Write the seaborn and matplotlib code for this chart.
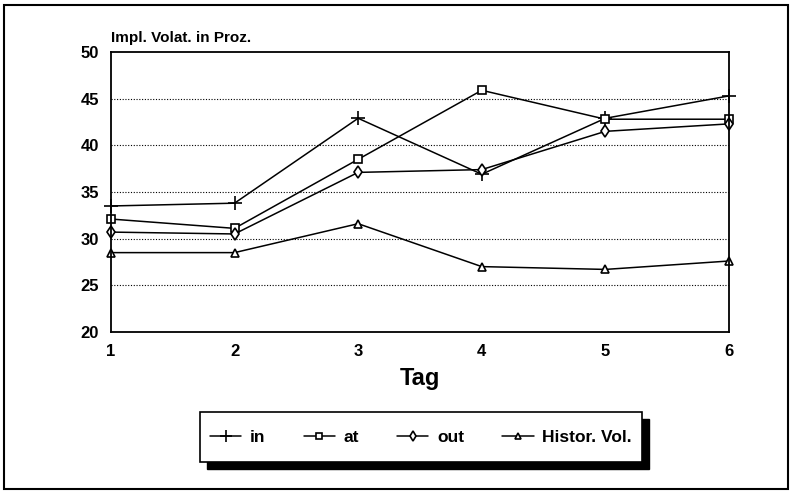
import pandas as pd
import matplotlib.pyplot as plt
from matplotlib.patches import Rectangle
import seaborn as sns

# Implied volatility per day
tage = [1, 2, 3, 4, 5, 6]
vol_in = [33.5, 33.8, 42.9, 36.9, 42.9, 45.3]
vol_at = [32.1, 31.1, 38.5, 45.9, 42.8, 42.8]
vol_out = [30.7, 30.5, 37.1, 37.4, 41.5, 42.3]
vol_hist = [28.5, 28.5, 31.6, 27.0, 26.7, 27.6]

series_names = ["in", "at", "out", "Histor. Vol."]
series_values = [vol_in, vol_at, vol_out, vol_hist]
markers = ["+", "s", "d", "^"]

sns.set_style("white")
plt.rcParams['font.family'] = ['Liberation Sans', 'DejaVu Sans']
plt.rcParams['font.weight'] = 'bold'
plt.rcParams['text.color'] = 'black'
plt.rcParams['axes.labelcolor'] = 'black'

fig = plt.figure(figsize=(7.98, 4.91), dpi=100)
ax = fig.add_axes([0.139, 0.324, 0.7745, 0.570])

for name, vals, m in zip(series_names, series_values, markers):
    df = pd.DataFrame({"Tag": tage, "Vol": vals})
    sns.lineplot(data=df, x="Tag", y="Vol", ax=ax, color="black", lw=1.1,
                 marker=m, markersize=6 if m != "+" else 10, markerfacecolor="white",
                 markeredgecolor="black", markeredgewidth=1.2, label=name, clip_on=False)

ax.set_xlim(1, 6)
ax.set_ylim(20, 50)
ax.set_xticks(tage)
ax.set_yticks([20, 25, 30, 35, 40, 45, 50])
ax.tick_params(direction="inout", length=10, width=1.2, labelsize=12, colors="black")
for lab in ax.get_xticklabels() + ax.get_yticklabels():
    lab.set_fontweight("bold")
for y in [25, 30, 35, 40, 45]:
    ax.axhline(y, color="black", lw=0.8, ls=(0, (1, 1.5)), zorder=0)
for s in ax.spines.values():
    s.set_color("black")
    s.set_linewidth(1.3)

ax.set_xlabel("Tag", fontsize=17, fontweight="bold", labelpad=6)
ax.set_ylabel("")
ax.text(0.0, 1.025, "Impl. Volat. in Proz.", transform=ax.transAxes, fontsize=11,
        fontweight="bold", ha="left", va="bottom")

# legend box with black shadow
W, H = 798.0, 491.0
fig.patches.append(Rectangle((207 / W, (H - 469) / H), 442 / W, 50 / H,
                             transform=fig.transFigure, facecolor="black", edgecolor="black", zorder=1))
fig.patches.append(Rectangle((200 / W, (H - 462) / H), 442 / W, 50 / H,
                             transform=fig.transFigure, facecolor="white", edgecolor="black",
                             lw=1.2, zorder=2))
ax.legend_.remove()
handles, labels = ax.get_legend_handles_labels()
leg = fig.legend(handles, labels, loc="center", bbox_to_anchor=(421 / W, (H - 437) / H),
                 ncol=4, frameon=False, fontsize=12.5, handlelength=1.8, columnspacing=2.2,
                 handletextpad=0.5, markerscale=0.8)
for t in leg.get_texts():
    t.set_fontweight("bold")

# outer frame
fig.patches.append(Rectangle((4 / W, 2 / H), 784 / W, 484 / H, transform=fig.transFigure,
                             facecolor="none", edgecolor="black", lw=1.5))

fig.savefig("out.png", dpi=100)
